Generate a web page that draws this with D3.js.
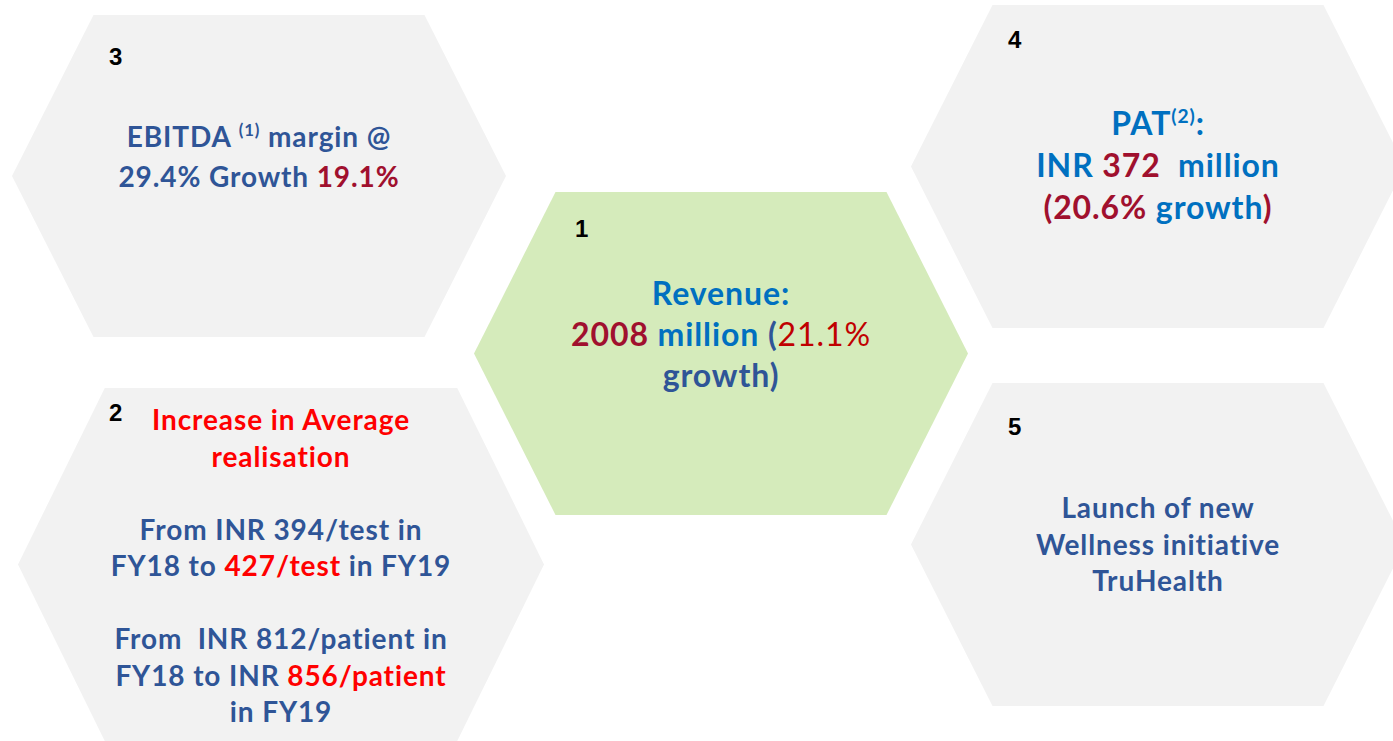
<!DOCTYPE html>
<html>
<head>
<meta charset="utf-8">
<script src="https://cdn.jsdelivr.net/npm/d3@7"></script>
<style>
  body { margin: 0; background: #fff; }
  svg { display: block; }
  .hex-text { font-family: Lato, "Open Sans", sans-serif; font-weight: 700; white-space: pre; letter-spacing: 0.9px; }
  .hex-num { font-family: "Liberation Sans", Arial, sans-serif; font-weight: 700; font-size: 24px; fill: #000; }
</style>
</head>
<body>
<svg></svg>
<script>
// hexagon ids and their highlight flag
const hexIds = ["1", "2", "3", "4", "5"]
const hexHighlight = [true, false, false, false, false]

// text of each hexagon: lines made of [text, colour key, style]
const revenueLines = [
    [["Revenue:", "blue"]],
    [["2008", "crimson"], [" million ", "blue"], ["(", "navy"], ["21.1%", "darkred", "light"]],
    [["growth)", "navy"]]
]
const realisationLines = [
    [["Increase in Average", "red"]],
    [["realisation", "red"]],
    [],
    [["From INR 394/test in", "navy"]],
    [["FY18 to ", "navy"], ["427/test", "red"], [" in FY19", "navy"]],
    [],
    [["From  INR 812/patient in", "navy"]],
    [["FY18 to INR ", "navy"], ["856/patient", "red"]],
    [["in FY19", "navy"]]
]
const ebitdaLines = [
    [["EBITDA ", "navy"], ["(1)", "navy", "sup"], [" margin @", "navy"]],
    [["29.4% Growth ", "navy"], ["19.1%", "crimson"]]
]
const patLines = [
    [["PAT", "blue"], ["(2)", "blue", "sup"], [":", "blue"]],
    [["INR ", "blue"], ["372", "crimson"], ["  million", "blue"]],
    [["(20.6%", "crimson"], [" growth", "blue"], [")", "crimson"]]
]
const wellnessLines = [
    [["Launch of new", "navy"]],
    [["Wellness initiative", "navy"]],
    [["TruHealth", "navy"]]
]
const hexLines = [revenueLines, realisationLines, ebitdaLines, patLines, wellnessLines]

const colors = {
    blue: "#0070c0",
    navy: "#2f5597",
    crimson: "#a0102e",
    darkred: "#c00000",
    red: "#ff0000"
}

// layout of each hexagon (box, text block, number label)
const layout = {
    "1": { x0: 474, x1: 968, y0: 192, y1: 515, ty: 305, lh: 41, fs: 32, nx: 101, ny: 45 },
    "2": { x0: 18, x1: 544, y0: 388, y1: 741, ty: 430, lh: 36.5, fs: 28, nx: 91, ny: 33 },
    "3": { x0: 12, x1: 506, y0: 15, y1: 337, ty: 147, lh: 40, fs: 28, nx: 97, ny: 50 },
    "4": { x0: 911, x1: 1405, y0: 5, y1: 328, ty: 135, lh: 42, fs: 32, nx: 97, ny: 43 },
    "5": { x0: 911, x1: 1405, y0: 383, y1: 706, ty: 518, lh: 36.5, fs: 28, nx: 97, ny: 52 }
}

const width = 1393
const height = 741

const svg = d3.select("svg")
    .attr("width", width)
    .attr("height", height)

const data = hexIds.map((id, i) => ({ id: id, highlight: hexHighlight[i], lines: hexLines[i], box: layout[id] }))

// unit hexagon, stretched into each box by scales
const hexPoints = [[0.165, 0], [0.835, 0], [1, 0.5], [0.835, 1], [0.165, 1], [0, 0.5], [0.165, 0]]

const hexGroups = svg
    .selectAll("g.hex")
    .data(data)
    .enter()
    .append("g")
    .attr("class", "hex")

hexGroups
    .append("path")
    .attr("d", (d) => {
        const x = d3.scaleLinear().domain([0, 1]).range([d.box.x0, d.box.x1])
        const y = d3.scaleLinear().domain([0, 1]).range([d.box.y0, d.box.y1])
        return d3.line().x(p => x(p[0])).y(p => y(p[1]))(hexPoints)
    })
    .style("fill", (d) => d.highlight ? "#d5ebbb" : "#f2f2f2")

hexGroups
    .append("text")
    .attr("class", "hex-num")
    .attr("x", (d) => d.box.x0 + d.box.nx)
    .attr("y", (d) => d.box.y0 + d.box.ny)
    .text((d) => d.id)

const blocks = hexGroups
    .append("text")
    .attr("class", "hex-text")
    .attr("text-anchor", "middle")
    .style("font-size", (d) => d.box.fs + "px")

const lines = blocks
    .selectAll("tspan.line")
    .data((d) => d.lines.map((segs, i) => ({ segs: segs, i: i, box: d.box })))
    .enter()
    .append("tspan")
    .attr("class", "line")
    .attr("x", (d) => (d.box.x0 + d.box.x1) / 2)
    .attr("y", (d) => d.box.ty + d.i * d.box.lh)

lines
    .selectAll("tspan.seg")
    .data((d) => d.segs.map(s => ({ text: s[0], color: s[1], style: s[2], fs: d.box.fs })))
    .enter()
    .append("tspan")
    .attr("class", "seg")
    .attr("dy", (d, i, nodes) => {
        if (d.style === "sup") return -d.fs * 0.38
        const prev = i > 0 ? d3.select(nodes[i - 1]).datum() : null
        return prev && prev.style === "sup" ? d.fs * 0.38 : 0
    })
    .style("font-size", (d) => d.style === "sup" ? (d.fs * 0.6) + "px" : null)
    .style("font-weight", (d) => d.style === "light" ? 400 : null)
    .style("fill", (d) => colors[d.color])
    .text((d) => d.text)
</script>
</body>
</html>
